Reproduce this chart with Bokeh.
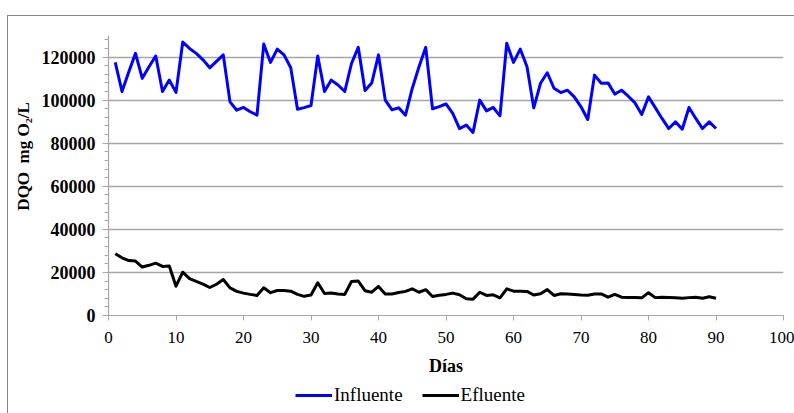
from bokeh.plotting import figure
from bokeh.layouts import column
from bokeh.models import (FixedTicker, Legend, LegendItem, Range1d,
                          NumeralTickFormatter)
from bokeh.embed import file_html
from bokeh.resources import INLINE

days = list(range(1, 91))
influente = [117500, 104000, 113000, 121700, 110100, 115500, 120500, 104000, 109300, 103600,
             127000, 124000, 121700, 118700, 115000, 118000, 121000, 99200, 95300, 96600,
             94600, 93000, 126000, 117500, 123700, 121000, 115000, 95800, 96500, 97500,
             120500, 104000, 109300, 107000, 104000, 117000, 124500, 104500, 108000, 121000,
             100000, 95500, 96400, 93000, 105400, 115500, 124500, 96000, 97000, 98200,
             93800, 86800, 88400, 85000, 100000, 95000, 96600, 92700, 126400, 117500,
             123700, 115500, 96400, 107800, 112700, 105500, 103500, 104600, 101500, 96900,
             91000, 111600, 107800, 108000, 102800, 104600, 101800, 98700, 93300, 101500,
             96500, 91500, 86800, 89900, 86500, 96600, 91500, 86800, 89900, 86800]
efluente = [28700, 26800, 25500, 25300, 22500, 23300, 24300, 22800, 23000, 13600,
            20100, 17100, 15800, 14600, 13000, 14500, 16700, 12800, 11200, 10400,
            9800, 9300, 12900, 10600, 11600, 11600, 11300, 9800, 8900, 9500,
            15200, 10200, 10400, 10000, 9800, 15800, 16000, 11500, 10800, 13500,
            10000, 10000, 10700, 11200, 12400, 10800, 12000, 8800, 9400, 9800,
            10400, 9600, 7800, 7600, 10800, 9300, 9600, 8200, 12400, 11300,
            11300, 11200, 9500, 10100, 12000, 9300, 10100, 10000, 9800, 9500,
            9400, 10000, 10000, 8500, 9800, 8500, 8400, 8300, 8200, 10600,
            8300, 8500, 8400, 8200, 8000, 8300, 8500, 8000, 8700, 8000]

x_ticks = list(range(0, 101, 10))
y_ticks = list(range(0, 120001, 20000))
y_minor = list(range(0, 130001, 4000))

FONT = "Liberation Serif, Times New Roman, serif"
GRID = "#a6a6a6"
BOX = "#868686"
NB = "\u00a0"

p = figure(width=794, height=385, output_backend="svg", toolbar_location=None,
           x_range=Range1d(0, 100), y_range=Range1d(0, 130000),
           min_border_left=108, min_border_right=11, min_border_top=35,
           min_border_bottom=70)
p.outline_line_color = None
p.background_fill_color = "white"
p.border_fill_color = None
p.styles = {
    "background-color": "white",
    "background-image": f"linear-gradient({BOX},{BOX}), linear-gradient({BOX},{BOX})",
    "background-size": "100% 1px, 1px 100%",
    "background-position": "7px 15px, 7px 15px",
    "background-repeat": "no-repeat",
}

p.xgrid.grid_line_color = None
p.ygrid.grid_line_color = GRID
p.ygrid.grid_line_width = 1.5
p.ygrid.ticker = FixedTicker(ticks=y_ticks[1:])

p.xaxis.ticker = FixedTicker(ticks=x_ticks)
p.yaxis.ticker = FixedTicker(ticks=y_ticks, minor_ticks=y_minor)
p.yaxis.formatter = NumeralTickFormatter(format="0")

for ax in (p.xaxis[0], p.yaxis[0]):
    ax.axis_line_color = GRID
    ax.axis_line_width = 1.2
    ax.major_tick_line_color = GRID
    ax.minor_tick_line_color = GRID
    ax.major_tick_in = 0
    ax.minor_tick_in = 0
    ax.major_label_text_font = FONT
    ax.major_label_text_color = "black"
    ax.axis_label_text_font = FONT
    ax.axis_label_text_font_style = "bold"
    ax.axis_label_text_color = "black"

p.xaxis.major_tick_out = 5
p.xaxis.minor_tick_out = 0
p.xaxis.major_label_text_font_size = "17px"
p.xaxis.major_label_standoff = 11
p.xaxis.axis_label = "Días"
p.xaxis.axis_label_text_font_size = "18px"
p.xaxis.axis_label_standoff = 10

p.yaxis.major_tick_out = 6
p.yaxis.minor_tick_out = 4
p.yaxis.major_label_text_font_size = "18px"
p.yaxis.major_label_text_font_style = "bold"
p.yaxis.major_label_standoff = 7
p.yaxis.axis_label = NB * 9 + "DQO" + NB + NB + "mg" + NB + "O₂/L"
p.yaxis.axis_label_text_font_size = "17px"
p.yaxis.axis_label_standoff = 6

p.line(days, influente, line_color="#0000ff", line_width=3, line_join="round")
p.line(days, efluente, line_color="black", line_width=3, line_join="round")

# legend strip underneath the chart (its frame is aligned with the chart's frame)
leg = figure(width=794, height=28, output_backend="svg", toolbar_location=None,
             x_range=Range1d(0, 1), y_range=Range1d(0, 1),
             x_axis_location=None, y_axis_location=None,
             min_border_left=0, min_border_right=0, min_border_top=0,
             min_border_bottom=0)
leg.grid.visible = False
leg.outline_line_color = None
leg.background_fill_color = None
leg.border_fill_color = None
leg.styles = {
    "background-color": "white",
    "background-image": f"linear-gradient({BOX},{BOX})",
    "background-size": "1px 100%",
    "background-position": "7px 0px",
    "background-repeat": "no-repeat",
}
l1 = leg.line(days, influente, line_color="#0000ff", line_width=3, visible=False)
l2 = leg.line(days, efluente, line_color="black", line_width=3, visible=False)
legend = Legend(items=[LegendItem(label="Influente", renderers=[l1]),
                       LegendItem(label="Efluente", renderers=[l2])],
                orientation="horizontal", location=(187, 7),
                label_text_font=FONT, label_text_font_size="19px",
                label_text_color="black", glyph_width=37, glyph_height=20,
                label_standoff=2, spacing=19, padding=0, margin=0,
                border_line_color=None, background_fill_alpha=0)
leg.add_layout(legend)

layout = column(p, leg, spacing=0)

open("out.html", "w").write(file_html(layout, INLINE))
